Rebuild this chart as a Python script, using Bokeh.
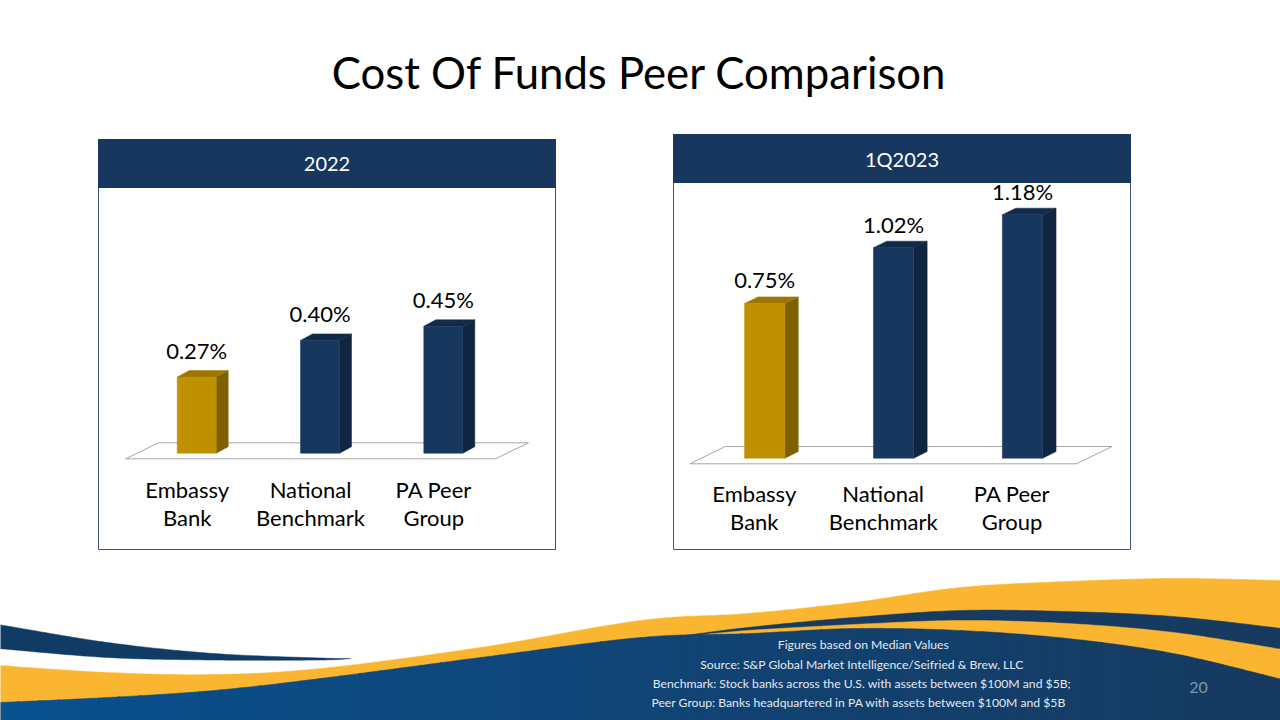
import numpy as np
from bokeh.plotting import figure
from bokeh.models import Range1d, ColumnDataSource
from bokeh.core.properties import value
from bokeh.embed import file_html
from bokeh.resources import INLINE

# ---------------- data ----------------
title = "Cost Of Funds Peer Comparison"
categories = ["Embassy\nBank", "National\nBenchmark", "PA Peer\nGroup"]
periods = ["2022", "1Q2023"]
cost_2022 = [0.27, 0.40, 0.45]
cost_1q2023 = [0.75, 1.02, 1.18]
bar_front_colors = ["#bf9000", "#17375e", "#17375e"]
bar_side_colors = ["#7f6000", "#10253f", "#10253f"]
bar_top_colors = ["#9c7600", "#112b4a", "#112b4a"]
footnotes = [
    "Figures based on Median Values",
    "Source: S&P Global Market Intelligence/Seifried & Brew,  LLC",
    "Benchmark: Stock banks across the U.S. with assets between  $100M and $5B;",
    "Peer Group: Banks headquartered  in PA  with assets between  $100M and $5B",
]
page_number = "20"

FONT = "Lato"
W, H = 1280, 720
NAVY = "#17375e"

p = figure(width=W, height=H, x_range=Range1d(0, W), y_range=Range1d(H, 0),
           x_axis_type=None, y_axis_type=None, output_backend="svg",
           toolbar_location=None, min_border=0)
p.grid.visible = False
p.outline_line_color = None
p.background_fill_color = "white"
p.border_fill_color = "white"


# ---------------- footer waves (decoration) ----------------
def smooth(pts, n=24):
    pts = np.asarray(pts, float)
    P = np.vstack([pts[0], pts, pts[-1]])
    out = []
    t = np.linspace(0, 1, n, endpoint=False)[:, None]
    for i in range(1, len(P) - 2):
        p0, p1, p2, p3 = P[i - 1], P[i], P[i + 1], P[i + 2]
        a = 0.5 * ((2 * p1) + (-p0 + p2) * t + (2 * p0 - 5 * p1 + 4 * p2 - p3) * t ** 2
                   + (-p0 + 3 * p1 - 3 * p2 + p3) * t ** 3)
        out.append(a)
    out.append(P[-2][None, :])
    return np.vstack(out)


def area_below(pts, color):
    c = smooth(pts)
    xs = list(c[:, 0]) + [c[-1, 0], c[0, 0]]
    ys = list(c[:, 1]) + [H + 2, H + 2]
    p.patch(xs, ys, fill_color=color, line_color=color, line_width=0.5)


YELLOW = "#fbb631"
yellow_top = [(-2, 665), (107, 672), (213, 674), (320, 668), (480, 647), (640, 620),
              (747, 613), (853, 602), (960, 587), (1067, 581), (1173, 578), (1282, 580)]
stripe_top = [(670, 637), (747, 627), (853, 617), (960, 610), (1067, 611), (1173, 616), (1282, 628)]
lower_yellow_top = [(695, 635), (747, 630), (853, 624), (960, 620), (1067, 623), (1173, 632), (1282, 649)]
main_top = [(-2, 702), (107, 697), (213, 690), (320, 678), (480, 657), (640, 637),
            (750, 633), (853, 628), (960, 630), (1067, 638), (1173, 653), (1282, 679)]

area_below(yellow_top, YELLOW)
area_below(stripe_top, "#163a60")
area_below(lower_yellow_top, YELLOW)

# main blue area with horizontal gradient (strips)
mc = smooth(main_top)
c_left = np.array([8, 82, 146])
c_right = np.array([22, 58, 96])
edges = np.linspace(-2, W + 2, 65)
for a, b in zip(edges[:-1], edges[1:]):
    sx = np.linspace(a, b + 1, 6)
    sy = np.interp(sx, mc[:, 0], mc[:, 1])
    f = ((a + b) / 2) / W
    f = min(max(f, 0), 1) ** 0.8
    col = tuple(int(round(v)) for v in c_left * (1 - f) + c_right * f)
    hexc = "#%02x%02x%02x" % col
    p.patch(list(sx) + [b + 1, a], list(sy) + [H + 2, H + 2],
            fill_color=hexc, line_color=hexc, line_width=0.5)

# left navy swoosh
sw_top = smooth([(-2, 624), (107, 642), (213, 653), (320, 657.5), (350, 658)])
sw_bot = smooth([(-2, 648), (107, 657), (213, 659.5), (320, 659.5), (350, 658)])
p.patch(list(sw_top[:, 0]) + list(sw_bot[::-1, 0]), list(sw_top[:, 1]) + list(sw_bot[::-1, 1]),
        fill_color="#0f3b64", line_color="#0f3b64", line_width=0.5)

# footnotes
fn_src = ColumnDataSource(dict(x=[863] * 4, y=[644, 664, 683, 702], t=footnotes))
p.text(x="x", y="y", text="t", source=fn_src, text_align="center", text_baseline="middle",
       text_font=value(FONT), text_font_size="12.2px", text_color="#e3e9f0")
p.text(x=[1198], y=[687], text=[page_number], text_align="center", text_baseline="middle",
       text_font=value(FONT), text_font_size="16px", text_color="#8096ad")

# title
p.text(x=[639], y=[71], text=[title], text_align="center", text_baseline="middle",
       text_font=value(FONT), text_font_size="43.7px", text_color="#000000")

# ---------------- panels ----------------
panels = [
    dict(name="y22", label=periods[0], values=cost_2022,
         box=(98, 555, 139, 549), header_h=48,
         floor_y=452.7, k=282.0, slot0=186.7, slot=123.3,
         bar_off=9.5, bar_w=39.0, dx=12.0, dy=6.5,
         floor_front=5.6, floor_back=10.4, floor_shift=33.0,
         label_gap=20.0, cat_px=(36.5, 64.5)),
    dict(name="q23", label=periods[1], values=cost_1q2023,
         box=(673, 1130, 134, 549), header_h=48,
         floor_y=457.7, k=206.3, slot0=753.8, slot=128.9,
         bar_off=10.4, bar_w=40.3, dx=13.4, dy=6.6,
         floor_front=5.6, floor_back=11.7, floor_shift=35.5,
         label_gap=17.0, cat_px=(35.5, 63.5)),
]

for cfg in panels:
    x0, x1, y0, y1 = cfg["box"]
    # panel frame and header band
    p.quad(left=[x0], right=[x1], top=[y0], bottom=[y1], fill_color="white",
           line_color="#3a5677", line_width=1)
    p.quad(left=[x0], right=[x1], top=[y0], bottom=[y0 + cfg["header_h"]],
           fill_color=NAVY, line_color=NAVY, line_width=1)
    p.text(x=[(x0 + x1) / 2], y=[y0 + cfg["header_h"] / 2], text=[cfg["label"]],
           text_align="center", text_baseline="middle", text_font=value(FONT),
           text_font_size="20px", text_color="white")

    # panel scales: category index on x, percent value on y
    k, slot = cfg["k"], cfg["slot"]
    xr_name, yr_name = cfg["name"] + "_x", cfg["name"] + "_y"
    xs_start = -cfg["slot0"] / slot
    p.extra_x_ranges[xr_name] = Range1d(start=xs_start, end=xs_start + W / slot)
    ys_start = (cfg["floor_y"] - H) / k
    p.extra_y_ranges[yr_name] = Range1d(start=ys_start, end=ys_start + H / k)
    rn = dict(x_range_name=xr_name, y_range_name=yr_name)

    ux, uy = 1.0 / slot, 1.0 / k
    n = len(categories)
    # floor
    ff, fb, fs = -cfg["floor_front"] * uy, cfg["floor_back"] * uy, cfg["floor_shift"] * ux
    p.patch([-0.5, n - 0.5, n - 0.5 + fs, -0.5 + fs], [ff, ff, fb, fb],
            fill_color="white", line_color="#a6a6a6", line_width=1, **rn)

    vals = cfg["values"]
    idx = np.arange(n)
    off, hw = cfg["bar_off"] * ux, cfg["bar_w"] * ux / 2
    dx, dy = cfg["dx"] * ux, cfg["dy"] * uy
    left = idx + off - hw
    right = idx + off + hw
    # side faces
    side_xs = [[r, r + dx, r + dx, r] for r in right]
    side_ys = [[0, dy, v + dy, v] for v in vals]
    p.patches(side_xs, side_ys, fill_color=bar_side_colors, line_color=bar_side_colors,
              line_width=0.5, **rn)
    # top faces
    top_xs = [[l, l + dx, r + dx, r] for l, r in zip(left, right)]
    top_ys = [[v, v + dy, v + dy, v] for v in vals]
    p.patches(top_xs, top_ys, fill_color=bar_top_colors, line_color=bar_top_colors,
              line_width=0.5, **rn)
    # front faces
    p.quad(left=list(left), right=list(right), bottom=[0] * n, top=vals,
           fill_color=bar_front_colors, line_color=bar_front_colors, line_width=0.5, **rn)

    # value labels
    lab_src = ColumnDataSource(dict(
        x=list(idx + off),
        y=[v + (cfg["dy"] + cfg["label_gap"]) * uy for v in vals],
        t=["%.2f%%" % v for v in vals]))
    p.text(x="x", y="y", text="t", source=lab_src, text_align="center",
           text_baseline="middle", text_font=value(FONT), text_font_size="22px",
           text_color="#000000", **rn)

    # category labels (two lines)
    for li in range(2):
        cat_src = ColumnDataSource(dict(
            x=list(idx),
            y=[-cfg["cat_px"][li] * uy] * n,
            t=[c.split("\n")[li] for c in categories]))
        p.text(x="x", y="y", text="t", source=cat_src, text_align="center",
               text_baseline="middle", text_font=value(FONT), text_font_size="22px",
               text_color="#000000", **rn)

open("out.html", "w").write(file_html(p, INLINE))
